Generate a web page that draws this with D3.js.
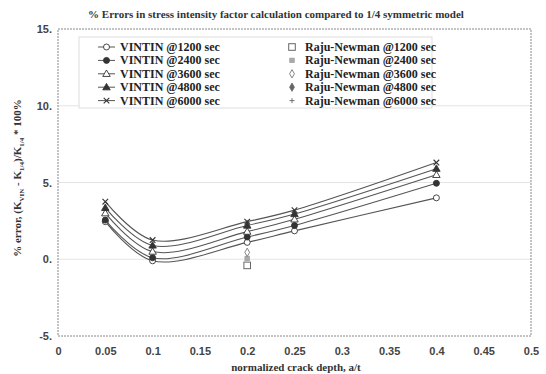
<!DOCTYPE html>
<html>
<head>
<meta charset="utf-8">
<script src="https://cdn.jsdelivr.net/npm/d3@7"></script>
<style>
  body { margin: 0; background: #fff; }
  svg { display: block; }
</style>
</head>
<body>
<div id="chart"></div>
<script>
// crack depths (a/t)
const depths = [0.05, 0.1, 0.2, 0.25, 0.4];
const times = [1200, 2400, 3600, 4800, 6000];

// VINTIN % error per time step
const vin1200 = [2.45, -0.1, 1.1, 1.85, 4.0];
const vin2400 = [2.55, 0.1, 1.45, 2.2, 4.95];
const vin3600 = [3.0, 0.5, 1.8, 2.6, 5.5];
const vin4800 = [3.35, 0.9, 2.2, 2.95, 5.9];
const vin6000 = [3.75, 1.25, 2.45, 3.2, 6.3];

// Raju-Newman, only at a/t = 0.2
const rnDepth = 0.2;
const rnValues = [-0.4, 0.05, 0.45, 1.4, 2.4];

const yTicks = [-5, 0, 5, 10, 15];
const xTicks = [0, 0.05, 0.1, 0.15, 0.2, 0.25, 0.3, 0.35, 0.4, 0.45, 0.5];

const W = 546, H = 374;
const m = { left: 58, right: 15, top: 29, bottom: 38 };

const svg = d3.select('#chart').append('svg').attr('width', W).attr('height', H);

const x = d3.scaleLinear().domain([0, 0.5]).range([m.left, W - m.right]);
const y = d3.scaleLinear().domain([-5, 15]).range([H - m.bottom, m.top]);

// grid
svg.append('g')
    .selectAll('line')
    .data(yTicks.filter((d) => d > -5 && d < 15))
    .join('line')
    .attr('x1', x(0)).attr('x2', x(0.5))
    .attr('y1', (d) => y(d)).attr('y2', (d) => y(d))
    .attr('stroke', '#e4e4e4')
    .attr('stroke-width', 1.2);

// frame
svg.append('rect')
    .attr('x', x(0)).attr('y', y(15))
    .attr('width', x(0.5) - x(0)).attr('height', y(-5) - y(15))
    .attr('fill', 'none')
    .attr('stroke', '#888')
    .attr('stroke-width', 1)
    .attr('stroke-dasharray', '2,1');

// axes
const yAxis = svg.append('g')
    .attr('transform', `translate(${x(0)},0)`)
    .call(d3.axisLeft(y).tickValues(yTicks).tickSize(0).tickPadding(6).tickFormat((d) => d + '.'));
yAxis.select('.domain').remove();
yAxis.selectAll('text')
    .attr('font-family', 'Liberation Sans, Arial, sans-serif')
    .attr('font-size', 11)
    .attr('font-weight', 'bold')
    .attr('fill', '#444');

const xAxis = svg.append('g')
    .attr('transform', `translate(0,${y(-5)})`)
    .call(d3.axisBottom(x).tickValues(xTicks).tickSize(0).tickPadding(11).tickFormat((d) => String(d)));
xAxis.select('.domain').remove();
xAxis.selectAll('text')
    .attr('font-family', 'Liberation Sans, Arial, sans-serif')
    .attr('font-size', 11)
    .attr('font-weight', 'bold')
    .attr('fill', '#444');

// title and labels
svg.append('text')
    .attr('x', 276).attr('y', 18)
    .attr('text-anchor', 'middle')
    .attr('font-family', 'Liberation Serif, Times New Roman, serif')
    .attr('font-weight', 'bold')
    .attr('font-size', 11)
    .attr('fill', '#333')
    .text('% Errors in stress intensity factor calculation compared to 1/4 symmetric model');

svg.append('text')
    .attr('x', 296).attr('y', 371)
    .attr('text-anchor', 'middle')
    .attr('font-family', 'Liberation Serif, Times New Roman, serif')
    .attr('font-weight', 'bold')
    .attr('font-size', 11)
    .attr('fill', '#333')
    .text('normalized crack depth, a/t');

const yl = svg.append('text')
    .attr('transform', 'translate(21,178) rotate(-90)')
    .attr('text-anchor', 'middle')
    .attr('font-family', 'Liberation Serif, Times New Roman, serif')
    .attr('font-weight', 'bold')
    .attr('font-size', 11)
    .attr('fill', '#333');
yl.append('tspan').text('% error, (K');
yl.append('tspan').attr('font-size', 7).attr('dy', 3).text('VIN');
yl.append('tspan').attr('dy', -3).text(' - K');
yl.append('tspan').attr('font-size', 7).attr('dy', 3).text('1/4');
yl.append('tspan').attr('dy', -3).text(')/K');
yl.append('tspan').attr('font-size', 7).attr('dy', 3).text('1/4');
yl.append('tspan').attr('dy', -3).text(' * 100%');

// markers
function marker(g, kind, cx, cy, color) {
    const c = color || '#333';
    if (kind === 'circle-open' || kind === 'circle-filled') {
        g.append('circle').attr('cx', cx).attr('cy', cy).attr('r', 3)
            .attr('fill', kind === 'circle-open' ? '#fff' : c).attr('stroke', c).attr('stroke-width', 0.9);
    } else if (kind === 'tri-open' || kind === 'tri-filled') {
        g.append('path').attr('d', d3.symbol(d3.symbolTriangle, 24)()).attr('transform', `translate(${cx},${cy + 0.5})`)
            .attr('fill', kind === 'tri-open' ? '#fff' : c).attr('stroke', c).attr('stroke-width', 0.9);
    } else if (kind === 'x') {
        g.append('path').attr('d', `M${cx - 2.8},${cy - 2.8}L${cx + 2.8},${cy + 2.8}M${cx - 2.8},${cy + 2.8}L${cx + 2.8},${cy - 2.8}`)
            .attr('fill', 'none').attr('stroke', c).attr('stroke-width', 1.1);
    } else if (kind === 'square-open') {
        g.append('rect').attr('x', cx - 3.3).attr('y', cy - 3.3).attr('width', 6.6).attr('height', 6.6)
            .attr('fill', '#fff').attr('stroke', c).attr('stroke-width', 1);
    } else if (kind === 'square-filled') {
        g.append('rect').attr('x', cx - 2.3).attr('y', cy - 2.3).attr('width', 4.6).attr('height', 4.6)
            .attr('fill', '#aaa').attr('stroke', '#999').attr('stroke-width', 0.6);
    } else if (kind === 'diamond-open' || kind === 'diamond-filled') {
        g.append('path').attr('d', d3.symbol(d3.symbolDiamond, 20)()).attr('transform', `translate(${cx},${cy})`)
            .attr('fill', kind === 'diamond-open' ? '#fff' : c).attr('stroke', c).attr('stroke-width', 0.8);
    } else if (kind === 'plus') {
        g.append('path').attr('d', `M${cx - 2.5},${cy}L${cx + 2.5},${cy}M${cx},${cy - 2.5}L${cx},${cy + 2.5}`)
            .attr('fill', 'none').attr('stroke', c).attr('stroke-width', 0.9);
    }
}

const vinSeries = [vin1200, vin2400, vin3600, vin4800, vin6000];
const vinKinds = ['circle-open', 'circle-filled', 'tri-open', 'tri-filled', 'x'];
const rnKinds = ['square-open', 'square-filled', 'diamond-open', 'diamond-filled', 'plus'];

const line = d3.line()
    .x((d) => x(d[0]))
    .y((d) => y(d[1]))
    .curve(d3.curveCatmullRom.alpha(0.5));

const plot = svg.append('g');
vinSeries.forEach((vals) => {
    plot.append('path')
        .attr('d', line(depths.map((d, i) => [d, vals[i]])))
        .attr('fill', 'none')
        .attr('stroke', '#555')
        .attr('stroke-width', 1.1);
});

const rnG = svg.append('g');
rnValues.forEach((v, i) => marker(rnG, rnKinds[i], x(rnDepth), y(v), '#666'));

const ptG = svg.append('g');
vinSeries.forEach((vals, k) => {
    depths.forEach((d, i) => marker(ptG, vinKinds[k], x(d), y(vals[i]), '#333'));
});

// legend
const lg = svg.append('g');
lg.append('rect')
    .attr('x', 79).attr('y', 37).attr('width', 353).attr('height', 71)
    .attr('fill', '#fff').attr('stroke', '#ddd').attr('stroke-width', 1);

times.forEach((t, i) => {
    const ly = 47 + i * 13.4;
    lg.append('line').attr('x1', 98).attr('x2', 115).attr('y1', ly).attr('y2', ly)
        .attr('stroke', '#555').attr('stroke-width', 1);
    marker(lg, vinKinds[i], 106.5, ly, '#333');
    lg.append('text').attr('x', 120).attr('y', ly + 4)
        .attr('font-family', 'Liberation Serif, Times New Roman, serif')
        .attr('font-weight', 'bold').attr('font-size', 12).attr('fill', '#222')
        .text(`VINTIN @${t} sec`);
    marker(lg, rnKinds[i], 292, ly, '#666');
    lg.append('text').attr('x', 305).attr('y', ly + 4)
        .attr('font-family', 'Liberation Serif, Times New Roman, serif')
        .attr('font-weight', 'bold').attr('font-size', 12).attr('fill', '#222')
        .text(`Raju-Newman @${t} sec`);
});
</script>
</body>
</html>
